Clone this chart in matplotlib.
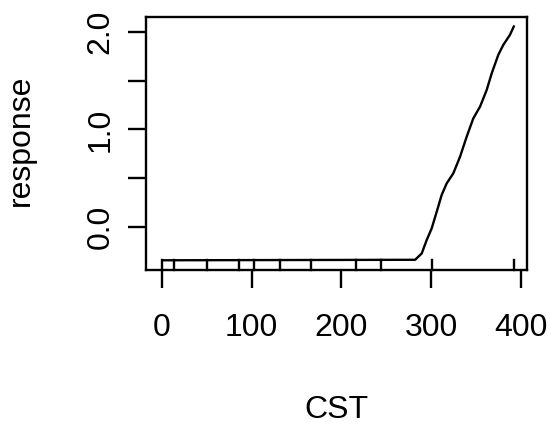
import matplotlib
matplotlib.use("Agg")
import matplotlib.pyplot as plt

# Partial dependence of the response on CST
cst = [0, 282, 289.4, 294.9, 300.5, 306.1, 311.6, 317.2, 324.6, 332.1, 339.5,
       346.9, 354.4, 361.8, 367.4, 374.7, 380.3, 387.7, 392.5]
response = [-0.345, -0.340, -0.275, -0.138, -0.017, 0.154, 0.326, 0.446, 0.549,
            0.720, 0.926, 1.115, 1.235, 1.407, 1.578, 1.767, 1.870, 1.973, 2.070]

# Deciles of CST shown as a rug
rug = [0, 13.7, 49.8, 85.8, 102.5, 131.5, 166, 216, 244, 300.6, 392]

x_ticks = [0, 100, 200, 300, 400]
x_labels = ["0", "100", "200", "300", "400"]
y_ticks = [0.0, 0.5, 1.0, 1.5, 2.0]
y_labels = ["0.0", "", "1.0", "", "2.0"]

plt.rcParams['font.family'] = ['Liberation Sans', 'DejaVu Sans']
FS = 23
LW = 1.7
W, H = 552, 425
fig = plt.figure(figsize=(W / 100, H / 100), dpi=100)
ax = fig.add_axes([146 / W, 1 - 270 / H, (527 - 146) / W, (270 - 16.7) / H])

ax.plot(cst, response, color="black", lw=LW, solid_joinstyle="round",
        solid_capstyle="butt")

# rug ticks rising from the bottom of the box
rug_h = 10 / (270 - 16.7)
for r in rug:
    ax.plot([r, r], [0, rug_h], transform=ax.get_xaxis_transform(),
            color="black", lw=LW, clip_on=False)

ax.set_xlim(-17.8, 406.7)
ax.set_ylim(-0.445, 2.16)
ax.set_xticks(x_ticks)
ax.set_xticklabels(x_labels)
ax.set_yticks(y_ticks)
ax.set_yticklabels(y_labels, rotation=90, va="center")

ax.tick_params(axis="both", direction="out", length=13, width=LW,
               labelsize=FS, color="black")
ax.tick_params(axis="x", pad=18)
ax.tick_params(axis="y", pad=9)

for s in ax.spines.values():
    s.set_linewidth(LW)

fig.text(336.5 / W, 1 - 418 / H, "CST", ha="center", va="baseline", fontsize=FS)
fig.text(28.5 / W, 1 - 140 / H, "response", ha="center", va="baseline",
         rotation=90, rotation_mode="anchor", fontsize=FS)

fig.savefig("out.png", dpi=100)
